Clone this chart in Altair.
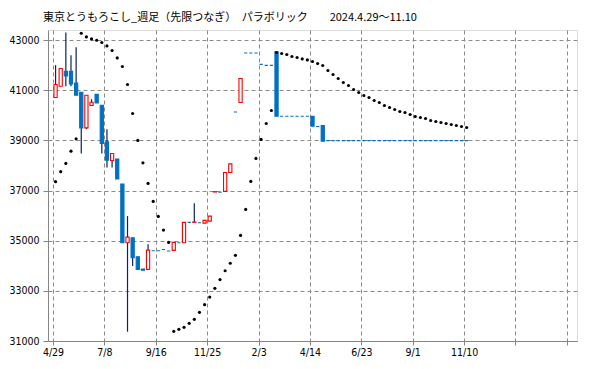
import altair as alt
import pandas as pd

# ---- data (weekly, 2024-04-29 .. 2025-11-10) ----
tick_weeks = [0, 10, 20, 30, 40, 50, 60, 70, 80, 90, 100]
tick_labels = ["4/29", "7/8", "9/16", "11/25", "2/3", "4/14", "6/23", "9/1", "11/10", "", ""]
y_ticks = [31000, 33000, 35000, 37000, 39000, 41000, 43000]

opens = [40710, 41160, 41757, 41757, 41280, 40920, 39498, 40390, 40840, 40402,
         38940, 38199, 38251, 37255, 34916, 35115, 34359, 33870, 33857, 34600,
         34600, 34650, 34590, 34613, 34920, 34916, 35730, 35730, 35715, 35701,
         35781, 36940, 36930, 36964, 37721, 40130, 40510, 42480, 42480, 42480,
         42030, 41990, 41990, 42526, 39960, 39960, 39960, 39960, 39960, 39960,
         39960, 39550, 39590, 38990, 38990, 38990, 38990, 38990, 38990, 38990,
         38990, 38990, 38990, 38990, 38990, 38990, 38990, 38990, 38990, 38990,
         38990, 38990, 38990, 38990, 38990, 38990, 38990, 38990, 38990, 38990,
         38990]
highs = [42000, 41870, 43300, 42394, 42713, 40920, 40800, 40641, 40840, 40402,
         39446, 38478, 38251, 37255, 35980, 35115, 34359, 33870, 34853, 34600,
         34600, 34650, 34590, 34932, 34920, 35729, 35730, 36490, 35715, 35809,
         35980, 36955, 36930, 37721, 38064, 40130, 41466, 42480, 42480, 42480,
         42030, 41990, 41990, 42526, 39960, 39960, 39960, 39960, 39960, 39960,
         39960, 39550, 39590, 38990, 38990, 38990, 38990, 38990, 38990, 38990,
         38990, 38990, 38990, 38990, 38990, 38990, 38990, 38990, 38990, 38990,
         38990, 38990, 38990, 38990, 38990, 38990, 38990, 38990, 38990, 38990,
         38990]
lows = [40710, 41160, 41160, 41160, 41130, 38478, 39446, 40390, 40494, 38478,
        37920, 37920, 37466, 34916, 31370, 33988, 33857, 33820, 33857, 34600,
        34600, 34650, 34590, 34613, 34920, 34916, 35730, 35730, 35715, 35701,
        35781, 36940, 36930, 36964, 37721, 40130, 40510, 42480, 42480, 42480,
        42030, 41990, 41990, 39964, 39960, 39960, 39960, 39960, 39960, 39960,
        39566, 39550, 38968, 38990, 38990, 38990, 38990, 38990, 38990, 38990,
        38990, 38990, 38990, 38990, 38990, 38990, 38990, 38990, 38990, 38990,
        38990, 38990, 38990, 38990, 38990, 38990, 38990, 38990, 38990, 38990,
        38990]
closes = [41230, 41865, 41570, 41251, 40800, 39498, 40800, 40522, 40494, 38876,
          38211, 38478, 37466, 34916, 35143, 34319, 33857, 33820, 34625, 34600,
          34600, 34650, 34590, 34932, 34920, 35729, 35730, 35745, 35715, 35809,
          35980, 36955, 36930, 37721, 38064, 40130, 41466, 42480, 42480, 42480,
          42030, 41990, 41990, 39964, 39960, 39960, 39960, 39960, 39960, 39960,
          39566, 39550, 38968, 38990, 38990, 38990, 38990, 38990, 38990, 38990,
          38990, 38990, 38990, 38990, 38990, 38990, 38990, 38990, 38990, 38990,
          38990, 38990, 38990, 38990, 38990, 38990, 38990, 38990, 38990, 38990,
          38990]
sar = [37354, 37753, 38080, 38570, 39060, 43271, 43124, 43044, 42992, 42900,
       42765, 42582, 42287, 41944, 41227, 40072, 38996, 38104, 37283, 36566,
       35968, 35422, 34932, 31386, 31466, 31546, 31705, 31865, 32143, 32450,
       32750, 33100, 33450, 33800, 34100, 34414, 35211, 36247, 37362, 38279,
       39036, 39673, 40191, 42502, 42462, 42422, 42343, 42303, 42247, 42207,
       42143, 42064, 41984, 41785, 41625, 41466, 41307, 41187, 41028, 40908,
       40789, 40709, 40589, 40510, 40390, 40311, 40231, 40151, 40111, 40032,
       39952, 39912, 39872, 39793, 39753, 39713, 39673, 39633, 39594, 39554,
       39514]

title_text = "東京とうもろこし_週足（先限つなぎ）　パラボリック　　2024.4.29～11.10"

df = pd.DataFrame({
    "week": list(range(len(opens))),
    "open": opens, "high": highs, "low": lows, "close": closes, "sar": sar,
})

label_array = "[" + ",".join("'" + t + "'" for t in tick_labels) + "]"

base = alt.Chart(df).transform_calculate(
    xc="datum.week + 0.5",
    dir="datum.close > datum.open ? 'up' : 'down'",
)

x_enc = alt.X(
    "xc:Q",
    scale=alt.Scale(domain=[0, 101], nice=False, zero=False),
    axis=alt.Axis(
        values=tick_weeks,
        labelExpr=label_array + "[round(datum.value / 10)]",
        title=None,
        grid=True,
        gridDash=[4, 3],
        gridColor="#8a8a8a",
        gridWidth=1,
        domainColor="#868686",
        tickColor="#868686",
        tickSize=4,
        labelFont="DejaVu Sans Condensed",
        labelFontSize=10.5,
        labelColor="#000000",
        labelPadding=2,
        labelFlush=False,
    ),
)
y_scale = alt.Scale(domain=[31000, 43400], nice=False, zero=False)
y_axis = alt.Axis(
    values=y_ticks,
    format="d",
    title=None,
    grid=True,
    gridDash=[4, 3],
    gridColor="#8a8a8a",
    gridWidth=1,
    domainColor="#868686",
    tickColor="#868686",
    tickSize=5,
    labelFont="DejaVu Sans Condensed",
    labelFontSize=10.5,
    labelColor="#000000",
    labelPadding=4,
)

wicks = base.mark_rule(color="#0a2266", strokeWidth=1.2).encode(
    x=x_enc,
    y=alt.Y("low:Q", scale=y_scale, axis=y_axis),
    y2="high:Q",
)

bodies = base.mark_bar(size=3.2, strokeWidth=1.1).encode(
    x=x_enc,
    y=alt.Y("open:Q", scale=y_scale, axis=y_axis),
    y2="close:Q",
    fill=alt.Fill("dir:N", scale=alt.Scale(domain=["up", "down"], range=["#FFFFFF", "#0070C0"]), legend=None),
    stroke=alt.Stroke("dir:N", scale=alt.Scale(domain=["up", "down"], range=["#FF0000", "#0070C0"]), legend=None),
)

dots = base.mark_circle(size=10, color="#000000", opacity=1).encode(
    x=x_enc,
    y=alt.Y("sar:Q", scale=y_scale, axis=y_axis),
)

title_mark = alt.Chart(pd.DataFrame({"t": [title_text]})).mark_text(
    align="left", baseline="middle", font="Noto Sans CJK JP", fontSize=11, color="#000000"
).encode(
    x=alt.value(-5),
    y=alt.value(-12),
    text="t:N",
)

chart = alt.layer(wicks, bodies, dots, title_mark).properties(
    width=529,
    height=311,
    autosize=alt.AutoSizeParams(type="none"),
    padding={"left": 40, "top": 22, "right": 14, "bottom": 20},
).configure_view(
    stroke="#868686",
    strokeWidth=1,
).configure(background="#FFFFFF")

chart.save("out.html", embed_options={"renderer": "svg", "actions": False})
